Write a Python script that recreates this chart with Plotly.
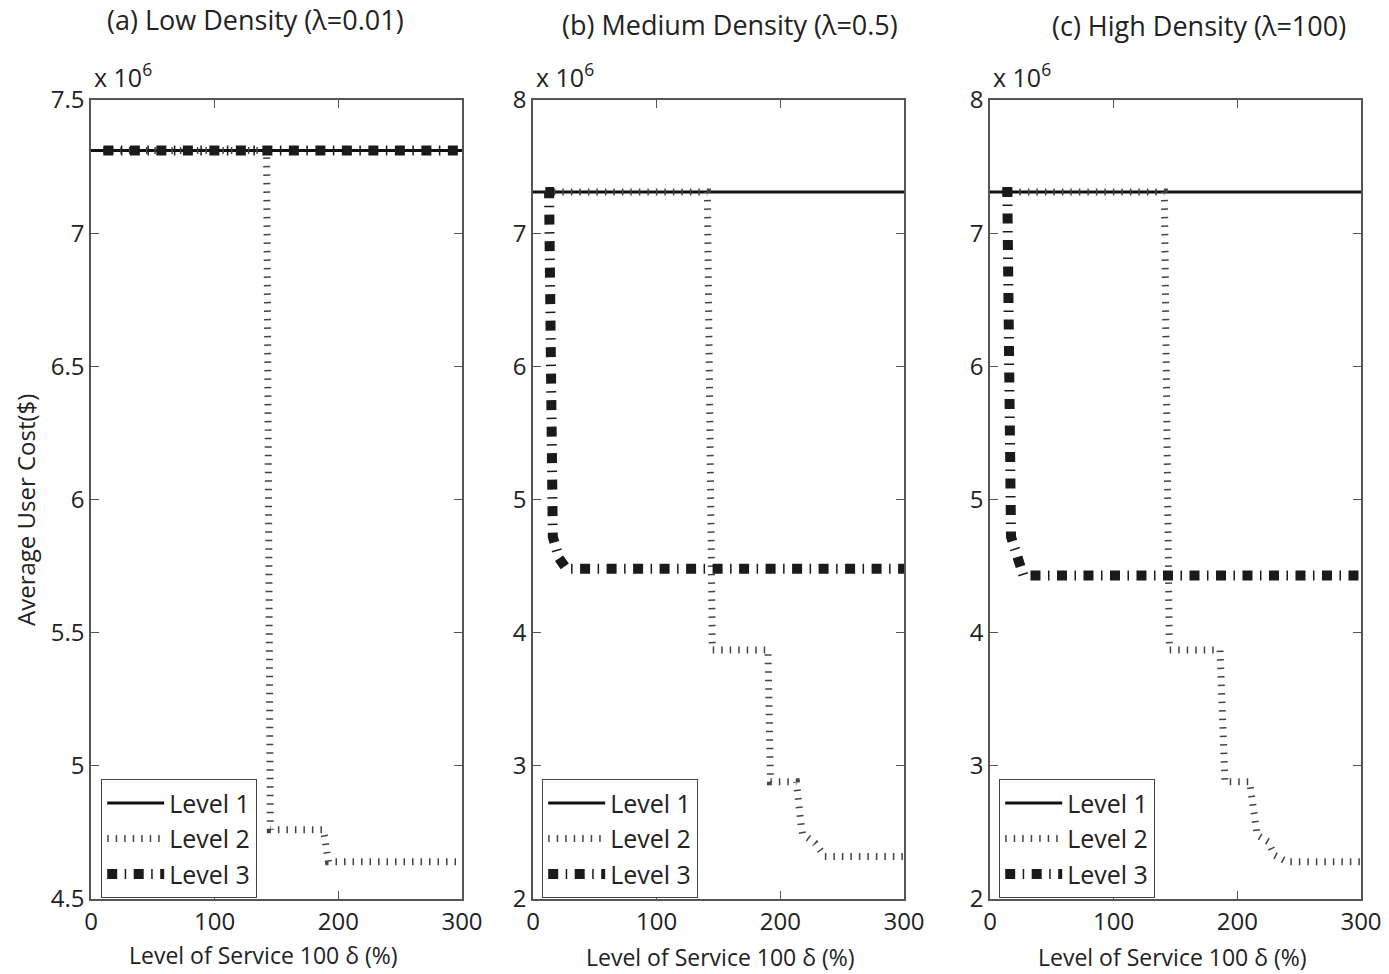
import plotly.graph_objects as go

# ---------------- data (values in units of 10^6 $) ----------------
x_level1 = [0, 300]
y_level1 = [7.31, 7.31]

# (a) Low density
a_x2 = [10, 142, 145, 188, 190, 192, 300]
a_y2 = [7.31, 7.31, 4.76, 4.76, 4.70, 4.64, 4.64]
a_x3 = [10, 300]
a_y3 = [7.31, 7.31]

# (b) Medium density
b_x2 = [10, 141, 145, 190, 192, 213, 217, 218, 228, 236, 300]
b_y2 = [7.31, 7.31, 3.87, 3.87, 2.88, 2.88, 2.54, 2.49, 2.42, 2.32, 2.32]
b_x3 = [10, 13, 16, 21, 27, 300]
b_y3 = [7.31, 7.31, 4.72, 4.56, 4.48, 4.48]

# (c) High density
c_x2 = [10, 141, 145, 186, 190, 210, 216, 225, 230, 240, 300]
c_y2 = [7.31, 7.31, 3.87, 3.87, 2.88, 2.88, 2.48, 2.43, 2.33, 2.28, 2.28]
c_x3 = [10, 14, 17, 22, 27, 300]
c_y3 = [7.31, 7.31, 4.72, 4.56, 4.43, 4.43]

titles = ["(a) Low Density (λ=0.01)", "(b) Medium Density (λ=0.5)", "(c) High Density (λ=100)"]
series_names = ["Level 1", "Level 2", "Level 3"]
x_ticks = [0, 100, 200, 300]
xlabel = "Level of Service 100 δ (%)"
ylabel = "Average User Cost($)"

FONT = "Open Sans"
W, H = 1389, 974

fig = go.Figure()

panels = [
    ("x", "y", "legend", a_x2, a_y2, a_x3, a_y3),
    ("x2", "y2", "legend2", b_x2, b_y2, b_x3, b_y3),
    ("x3", "y3", "legend3", c_x2, c_y2, c_x3, c_y3),
]

for xa, ya, lg, x2, y2, x3, y3 in panels:
    fig.add_trace(go.Scatter(x=x_level1, y=y_level1, mode="lines", name=series_names[0],
                             xaxis=xa, yaxis=ya, legend=lg,
                             line=dict(color="#111111", width=3)))
    fig.add_trace(go.Scatter(x=x2, y=y2, mode="lines", name=series_names[1],
                             xaxis=xa, yaxis=ya, legend=lg,
                             line=dict(color="#444444", width=7, dash="1.5px,7px")))
    fig.add_trace(go.Scatter(x=x3, y=y3, mode="lines", name=series_names[2],
                             xaxis=xa, yaxis=ya, legend=lg,
                             line=dict(color="#1a1a1a", width=10, dash="10px,7.5px,1.5px,7.5px")))

# panel geometry in pixels
xdoms = [(91, 462), (533, 904), (990, 1361)]
ytop, ybot = 100, 899

axis_common = dict(showline=True, linecolor="#555555", linewidth=1.5, mirror="ticks",
                   ticks="inside", ticklen=8, tickwidth=1.2, tickcolor="#555555",
                   showgrid=False, zeroline=False, automargin=False,
                   tickfont=dict(family=FONT, size=24, color="#222222"))

yranges = [([4.5, 7.5], 0.5), ([2, 8], 1), ([2, 8], 1)]
for i, (l, r) in enumerate(xdoms):
    sfx = "" if i == 0 else str(i + 1)
    fig.layout["xaxis" + sfx] = dict(domain=[l / W, r / W], range=[0, 300], tickvals=x_ticks,
                                     anchor="y" + sfx, **axis_common)
    rng, dt = yranges[i]
    fig.layout["yaxis" + sfx] = dict(domain=[1 - ybot / H, 1 - ytop / H], range=rng, dtick=dt,
                                     tick0=rng[0], anchor="x" + sfx, **axis_common)

# legends
leg_x = [101, 542, 999]
for i, lx in enumerate(leg_x):
    key = "legend" if i == 0 else "legend%d" % (i + 1)
    fig.layout[key] = dict(x=lx / W, y=1 - 779 / H, xanchor="left", yanchor="top",
                           bgcolor="white", bordercolor="#444444", borderwidth=1.2,
                           font=dict(family=FONT, size=25, color="#222222"),
                           tracegroupgap=0, itemwidth=57)

ann = []
title_pos = [(255, 20), (729.5, 24), (1198.5, 25)]
for t, (tx, ty) in zip(titles, title_pos):
    ann.append(dict(text=t, x=tx / W, y=1 - ty / H, xref="paper", yref="paper",
                    xanchor="center", yanchor="middle", showarrow=False,
                    font=dict(family=FONT, size=27, color="#222222")))
xl_pos = [(263, 955), (720, 957), (1172, 957)]
for (tx, ty) in xl_pos:
    ann.append(dict(text=xlabel, x=tx / W, y=1 - ty / H, xref="paper", yref="paper",
                    xanchor="center", yanchor="middle", showarrow=False,
                    font=dict(family=FONT, size=23, color="#222222")))
for (l, r) in xdoms:
    ann.append(dict(text="x 10<sup>6</sup>", x=(l + 1) / W, y=1 - 96 / H, xref="paper", yref="paper",
                    xanchor="left", yanchor="bottom", showarrow=False,
                    font=dict(family=FONT, size=25, color="#222222")))
ann.append(dict(text=ylabel, x=25 / W, y=1 - 510 / H, xref="paper", yref="paper",
                xanchor="center", yanchor="middle", showarrow=False, textangle=-90,
                font=dict(family=FONT, size=24, color="#222222")))

fig.update_layout(width=W, height=H,
                  margin=dict(l=0, r=0, t=0, b=0, pad=0, autoexpand=False),
                  paper_bgcolor="white", plot_bgcolor="white", annotations=ann,
                  showlegend=True)

fig.write_html("out.html", config={"displayModeBar": False},
               post_script="document.body.style.margin='0px';document.body.style.overflow='hidden';")
